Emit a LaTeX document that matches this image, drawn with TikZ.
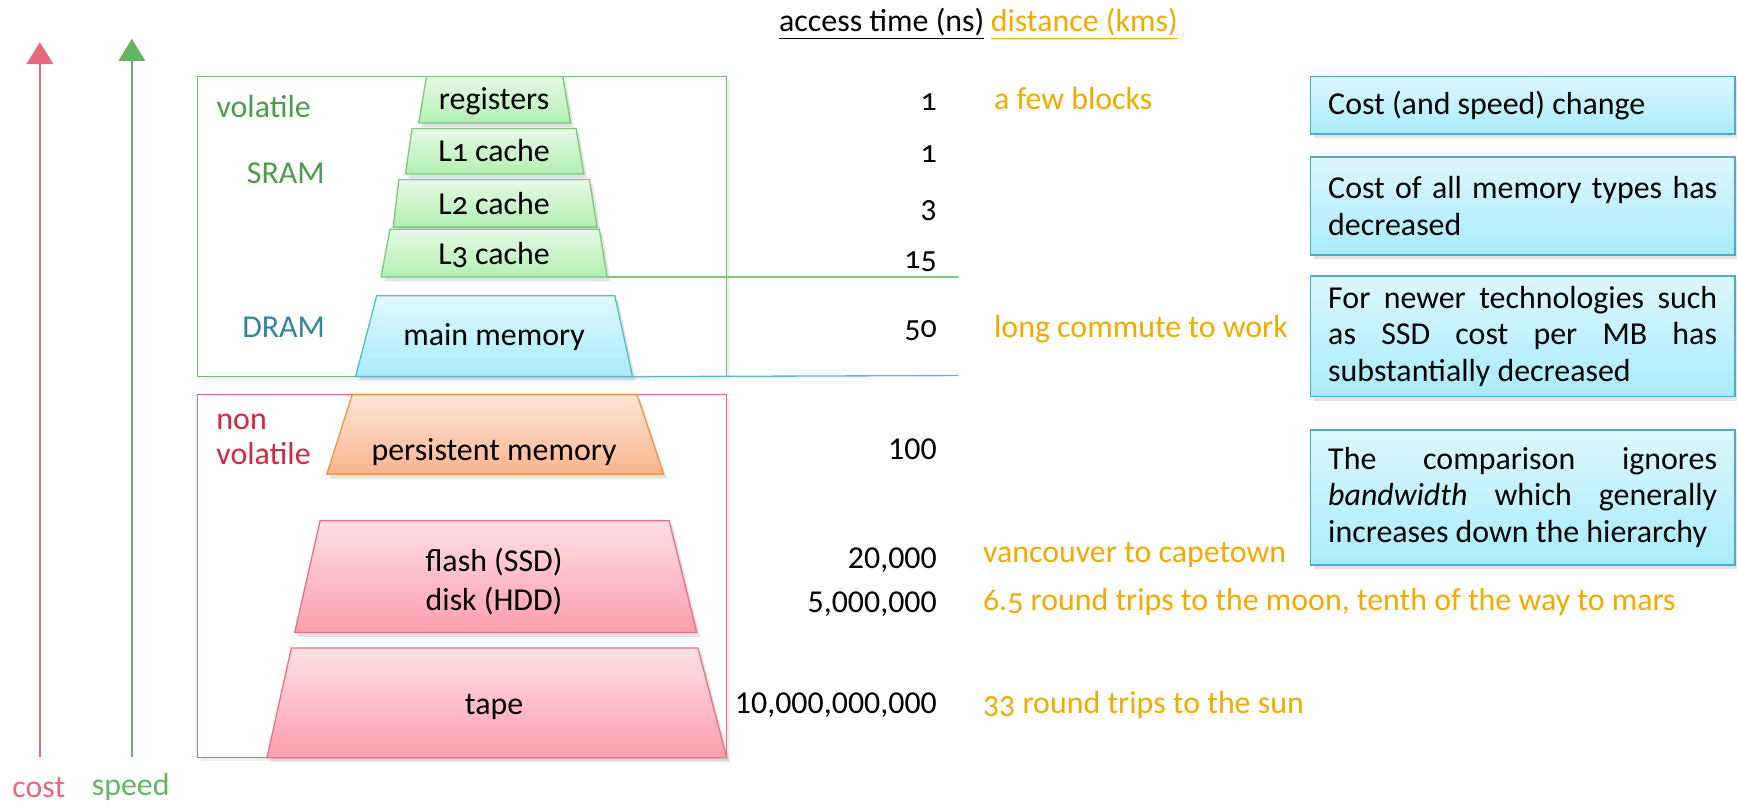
\documentclass[tikz,border=0pt]{standalone}
\usepackage{fontspec}
\setmainfont{Carlito}
\newfontfamily\osf[Numbers=OldStyle]{Carlito}
\usetikzlibrary{arrows.meta,shadows}
\newcommand\nohyphjust{\hyphenpenalty=10000\relax\exhyphenpenalty=10000\relax\tolerance=10000\relax}
\definecolor{costC}{HTML}{E8687A}
\definecolor{speedC}{HTML}{62B562}
\definecolor{volC}{HTML}{6EBE6E}
\definecolor{nvC}{HTML}{E86A7A}
\definecolor{orC}{HTML}{F2AA00}
\definecolor{greenTxt}{HTML}{4E9A4E}
\definecolor{dramTxt}{HTML}{31859C}
\definecolor{nvTxt}{HTML}{D9263F}
\definecolor{gB}{HTML}{7CC87C}
\definecolor{gT}{HTML}{E6FAE6}
\definecolor{gBot}{HTML}{B2EFB2}
\definecolor{bB}{HTML}{5BB8D0}
\definecolor{bT}{HTML}{E3F9FF}
\definecolor{bBot}{HTML}{A6EBFC}
\definecolor{oB}{HTML}{F0954A}
\definecolor{oT}{HTML}{FDE6DA}
\definecolor{oBot}{HTML}{FBB48C}
\definecolor{pB}{HTML}{E8708A}
\definecolor{pT}{HTML}{FFDFE5}
\definecolor{pBot}{HTML}{FC9EAD}
\definecolor{ibB}{HTML}{4BACC6}
\definecolor{ibT}{HTML}{DDF7FE}
\definecolor{ibBot}{HTML}{A8EBFB}
\tikzset{
  every node/.style={font=\fontsize{14.4}{17}\selectfont, inner sep=0pt},
  lbl/.style={text height=10pt, text depth=2pt},
  shad/.style={drop shadow={shadow xshift=1.5pt, shadow yshift=-2pt, opacity=0.22}},
  trap/.style={line width=0.6pt, shad},
  greentrap/.style={trap, draw=gB, top color=gT, bottom color=gBot},
  bluetrap/.style={trap, draw=bB, top color=bT, bottom color=bBot},
  orangetrap/.style={trap, draw=oB, top color=oT, bottom color=oBot},
  pinktrap/.style={trap, draw=pB, top color=pT, bottom color=pBot},
  groupbox/.style={line width=0.6pt, fill=white, drop shadow={shadow xshift=1.5pt, shadow yshift=-1.5pt, opacity=0.12}},
  infobox/.style={draw=ibB, line width=0.8pt, top color=ibT, bottom color=ibBot,
    text width=175.5pt, inner xsep=8pt, inner ysep=0pt, align=justify,
    font=\fontsize{14.4}{16.5}\selectfont\nohyphjust, shad},
  num/.style={lbl, anchor=east},
  dist/.style={lbl, anchor=west, text=orC},
  axisarrow/.style={line width=1pt, -{Triangle[width=12pt,length=10pt]}},
}
\begin{document}
\begin{tikzpicture}[x=0.5pt,y=0.5pt]
\useasboundingbox (0,0) rectangle (1568,-726);

% axis arrows
\coordinate (costbot) at (36,-683);
\coordinate (costtop) at (36,-38);
\coordinate (speedbot) at (119,-683);
\coordinate (speedtop) at (119,-35);
\draw[axisarrow, costC] (costbot) -- (costtop);
\draw[axisarrow, speedC] (speedbot) -- (speedtop);
\node[lbl, text=costC] (cost) at (35,-712) {cost};
\node[lbl, text=speedC] (speed) at (118,-710) {speed};

% group boxes
\draw[groupbox, draw=volC] (178,-69) rectangle (656,-340);
\draw[groupbox, draw=nvC] (178,-356) rectangle (656,-684);

% trapezoids
\path[greentrap] (385,-69) -- (508,-69) -- (515,-111) -- (378,-111) -- cycle;
\path[greentrap] (372,-116) -- (520,-116) -- (527,-157) -- (366,-157) -- cycle;
\path[greentrap] (360,-162) -- (532,-162) -- (539,-205) -- (355,-205) -- cycle;
\path[greentrap] (352,-207) -- (541,-207) -- (548,-250) -- (344,-250) -- cycle;
\path[bluetrap] (340,-267) -- (555,-267) -- (571,-340) -- (321,-340) -- cycle;
\path[orangetrap] (318,-356) -- (575,-356) -- (599,-428) -- (295,-428) -- cycle;
\path[pinktrap] (289,-470) -- (604,-470) -- (629,-571) -- (266,-571) -- cycle;
\path[pinktrap] (263,-585) -- (630,-585) -- (656,-684) -- (241,-684) -- cycle;

\node[lbl] (reg) at (446,-91) {registers};
\node[lbl] (l1) at (446,-138) {L{\osf 1} cache};
\node[lbl] (l2) at (446,-186) {L{\osf 2} cache};
\node[lbl] (l3) at (446,-231) {L{\osf 3} cache};
\node[lbl] (mm) at (446,-304) {main memory};
\node[lbl] (pm) at (446,-408) {persistent memory};
\node[align=center, font=\fontsize{14.4}{18}\selectfont] (fd) at (446,-525) {flash (SSD)\\disk (HDD)};
\node[lbl] (tape) at (446,-637) {tape};

% separator lines
\coordinate (l3end) at (865,-250);
\coordinate (mmend) at (865,-339);
\draw[gB, line width=0.6pt] (548,-250) -- (l3end);
\draw[bB, line width=0.6pt] (571,-340) -- (mmend);

% group labels
\node[lbl, text=greenTxt] (vol) at (238,-98) {volatile};
\node[lbl, text=greenTxt] (sram) at (258,-158) {SRAM};
\node[lbl, text=dramTxt] (dram) at (256,-297) {DRAM};
\node[anchor=north west, align=left, text=nvTxt, font=\fontsize{14.4}{16}\selectfont] (nv) at (195,-373) {non\\volatile};

% header
\node[lbl, anchor=east] (hat) at (889,-20) {\underline{access time (ns)}};
\node[lbl, anchor=west, text=orC] (hdist) at (894,-20) {\underline{distance (kms)}};

% numbers
\node[num] (t1) at (846,-92) {\osf 1};
\node[num] (t2) at (846,-139) {\osf 1};
\node[num] (t3) at (846,-188) {\osf 3};
\node[num] (t4) at (846,-234) {\osf 15};
\node[num] (t5) at (846,-297) {\osf 50};
\node[num] (t6) at (846,-407) {100};
\node[num] (t7) at (846,-505) {20,000};
\node[num] (t8) at (846,-545) {5,000,000};
\node[num] (t9) at (846,-636) {10,000,000,000};

% distances
\node[dist] (d1) at (897,-91) {a few blocks};
\node[dist] (d2) at (897,-297) {long commute to work};
\node[dist] (d3) at (887,-500) {vancouver to capetown};
\node[dist] (d4) at (887,-543) {{\osf 6.5} round trips to the moon, tenth of the way to mars};
\node[dist] (d5) at (887,-636) {{\osf 33} round trips to the sun};

% info boxes
\node[infobox, minimum height=26pt] (b1) at (1374.5,-95) {Cost (and speed) change};
\node[infobox, minimum height=44pt] (b2) at (1374.5,-186) {Cost of all memory types has\linebreak decreased};
\node[infobox, minimum height=54.5pt] (b3) at (1374.5,-303.5) {For newer technologies such\linebreak as SSD cost per MB has\linebreak substantially decreased};
\node[infobox, minimum height=61pt] (b4) at (1374.5,-449) {The comparison ignores\linebreak \emph{bandwidth} which generally\linebreak increases down the hierarchy};
\end{tikzpicture}
\end{document}
